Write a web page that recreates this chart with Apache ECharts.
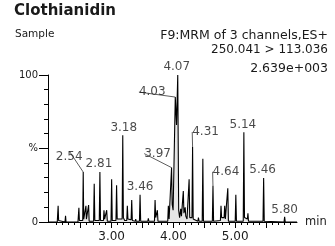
<!DOCTYPE html>
<html>
<head>
<meta charset="utf-8">
<script src="https://cdn.jsdelivr.net/npm/echarts@6/dist/echarts.min.js"></script>
<style>
    html, body { margin: 0; padding: 0; background: #fff; }
    #chart { width: 335px; height: 246px; }
</style>
</head>
<body>
<div id="chart"></div>
<script>
// chromatogram trace (time in min, intensity in %)
var retTime = [
    1.97, 2.12, 2.128, 2.134, 2.142, 2.15, 2.245, 2.254, 2.262,
    2.455, 2.462, 2.47, 2.478, 2.532, 2.54, 2.548, 2.575, 2.584, 2.592, 2.618, 2.627, 2.636,
    2.708, 2.718, 2.728, 2.8, 2.81, 2.82, 2.868, 2.876, 2.886, 2.91, 2.92, 2.93,
    2.99, 3.0, 3.01, 3.07, 3.08, 3.09, 3.17, 3.18, 3.19, 3.2, 3.21, 3.245, 3.254, 3.264,
    3.315, 3.325, 3.335, 3.383, 3.39, 3.397, 3.45, 3.46, 3.47,
    3.585, 3.594, 3.603, 3.62, 3.63, 3.693, 3.703, 3.713, 3.732, 3.74, 3.75,
    3.908, 3.918, 3.93, 3.96, 3.97, 3.98, 3.995, 4.03, 4.05, 4.07, 4.085,
    4.1, 4.118, 4.13, 4.15, 4.16, 4.17, 4.19, 4.2, 4.22, 4.244, 4.254, 4.264, 4.3, 4.31, 4.32,
    4.395, 4.405, 4.415, 4.466, 4.476, 4.486, 4.63, 4.64, 4.65,
    4.76, 4.77, 4.78, 4.8, 4.82, 4.83, 4.84, 4.872, 4.88, 4.89,
    5.0, 5.01, 5.02, 5.13, 5.14, 5.15, 5.197, 5.206, 5.215,
    5.45, 5.46, 5.47, 5.79, 5.80, 5.81, 6.0
];
var intensity = [
    0, 0, 1, 11, 1, 0, 0, 4.3, 0,
    0, 1, 9.7, 1, 1, 34, 2, 1.5, 11, 2, 1.5, 11.5, 0.5,
    0.5, 26, 1, 1, 34, 1, 1, 8, 2, 2, 8, 0.5,
    0.5, 29, 1, 1, 25, 2, 2, 59, 3, 3.5, 1, 1, 11, 2,
    1.5, 15, 1, 0.5, 2, 0.5, 0.5, 18.5, 0.5,
    0.5, 2.5, 0.5, 1, 0.3, 0.5, 15, 3, 3, 8, 0.5,
    0.5, 11, 2, 3, 37, 12, 8, 85, 66, 100, 8,
    3, 9, 4, 5, 21, 6, 10, 4, 2, 3, 29, 3, 3, 51, 2,
    0.5, 3, 0.5, 0.5, 43, 0.5, 0.5, 24.6, 0.5,
    1, 11, 3, 4, 3, 11, 2, 2, 23, 0.5,
    0.5, 18.5, 0.5, 0.5, 61, 3, 2, 6, 0.5,
    0.5, 30, 0.5, 0, 3.5, 0, 0
];

// labelled peaks
var peakLabels = ['2.54', '2.81', '3.18', '3.46', '3.97', '4.03', '4.07', '4.31', '4.64', '5.14', '5.46', '5.80'];
var peakTimes = [2.54, 2.81, 3.18, 3.46, 3.97, 4.03, 4.07, 4.31, 4.64, 5.14, 5.46, 5.80];

// axis ticks and labels
var X_MIN = 1.97, X_MAX = 6.0;
var xLabelValues = [3, 4, 5];
var xMajorTicks = [2.5, 3, 3.5, 4, 4.5, 5, 5.5];
var yLabelValues = [0, 50, 100];
var yLabelText = ['0', '%', '100'];
var yMinorTicks = [10, 20, 30, 40, 60, 70, 80, 90];

// label placement (px from apex) and which ones get a leader line
var labelShift = {
    '2.54': [-14, -15], '2.81': [-1, -8], '3.18': [1, -7], '3.46': [0, -8],
    '3.97': [-14, -14], '4.03': [-23, -5], '4.07': [-1, -8], '4.31': [13, -15],
    '4.64': [13, -14], '5.14': [-1, -7], '5.46': [-1, -8], '5.80': [0, -7]
};
var withLeader = ['2.54', '3.97', '4.03', '4.31', '4.64'];

var FONT = 'DejaVu Sans';
var INK = '#1a1a1a';

var trace = retTime.map(function (t, i) { return [t, intensity[i]]; });

function peakItem(name, idx) {
    var t = peakTimes[idx];
    var j = retTime.indexOf(t);
    return { name: name, value: [t, intensity[j]] };
}
var leaderPeaks = [], plainPeaks = [];
peakLabels.forEach(function (name, i) {
    (withLeader.indexOf(name) >= 0 ? leaderPeaks : plainPeaks).push(peakItem(name, i));
});

var xMinorTicks = [];
for (var k = 20; k <= 60; k++) {
    if (k % 5 !== 0) xMinorTicks.push(k / 10);
}

// tick marks drawn through the axes' own scales
var xTickData = xMinorTicks.map(function (v) { return [v, 0, 0]; })
    .concat(xMajorTicks.map(function (v) { return [v, 0, 1]; }));
var yTickData = yMinorTicks.map(function (v) { return [X_MIN, v, 0]; })
    .concat(yLabelValues.map(function (v) { return [X_MIN, v, 1]; }));

function crisp(v) { return Math.round(v - 0.5) + 0.5; }

function xTick(params, api) {
    var p = api.coord([api.value(0), 0]);
    var len = api.value(2) ? 6 : 3;
    var x = crisp(p[0]), y = Math.round(p[1]);
    return { type: 'line', shape: { x1: x, y1: y, x2: x, y2: y + len },
             style: { stroke: '#000', lineWidth: 1 } };
}
function yTick(params, api) {
    var p = api.coord([api.value(0), api.value(1)]);
    var len = api.value(2) ? 9 : 4;
    var x = Math.round(p[0]), y = crisp(p[1]);
    return { type: 'line', shape: { x1: x - len, y1: y, x2: x, y2: y },
             style: { stroke: '#000', lineWidth: 1 } };
}

function shiftLayout(list) {
    return function (p) {
        var s = labelShift[list[p.dataIndex].name];
        return { dx: s[0], dy: s[1] };
    };
}

var chart = echarts.init(document.getElementById('chart'), null, { renderer: 'canvas' });
chart.setOption({
    animation: false,
    backgroundColor: '#fff',
    textStyle: { fontFamily: FONT },
    title: [
        { text: 'Clothianidin', left: 14, top: 4, padding: 0,
          textStyle: { fontFamily: FONT, fontSize: 15, fontWeight: 'bold', color: INK } },
        { text: 'Sample', left: 15, top: 29, padding: 0,
          textStyle: { fontFamily: FONT, fontSize: 10.5, fontWeight: 'normal', color: INK } },
        { text: 'F9:MRM of 3 channels,ES+', right: 7, top: 29, padding: 0,
          textStyle: { fontFamily: FONT, fontSize: 12.5, fontWeight: 'normal', color: INK } },
        { text: '250.041 > 113.036', right: 7, top: 44, padding: 0,
          textStyle: { fontFamily: FONT, fontSize: 12, fontWeight: 'normal', color: INK } },
        { text: '2.639e+003', right: 7, top: 62, padding: 0,
          textStyle: { fontFamily: FONT, fontSize: 12.5, fontWeight: 'normal', color: INK } }
    ],
    grid: { left: 48, top: 75, width: 249, height: 147, containLabel: false, outerBoundsMode: 'none' },
    xAxis: {
        type: 'value', min: X_MIN, max: X_MAX, position: 'bottom',
        name: 'min', nameLocation: 'end', nameGap: 8,
        nameTextStyle: { fontFamily: FONT, fontSize: 11.5, color: INK, verticalAlign: 'middle' },
        axisLine: { show: true, onZero: false, lineStyle: { color: '#000', width: 1 } },
        axisTick: { show: false },
        axisLabel: {
            show: true, customValues: xLabelValues, margin: 9,
            fontFamily: FONT, fontSize: 12, color: INK,
            formatter: function (v) { return v.toFixed(2); }
        },
        splitLine: { show: false }
    },
    yAxis: {
        type: 'value', min: 0, max: 100, position: 'left',
        axisLine: { show: true, onZero: false, lineStyle: { color: '#000', width: 1 } },
        axisTick: { show: false },
        axisLabel: {
            show: true, customValues: yLabelValues, margin: 10,
            fontFamily: FONT, fontSize: 10, color: INK,
            formatter: function (v) { return yLabelText[yLabelValues.indexOf(v)]; }
        },
        splitLine: { show: false }
    },
    series: [
        {
            type: 'line', data: trace,
            showSymbol: false, symbol: 'none', silent: true,
            lineStyle: { color: '#000', width: 1.1 },
            areaStyle: { color: 'rgba(0,0,0,0.14)' },
            z: 2
        },
        { type: 'custom', data: xTickData, renderItem: xTick, silent: true, clip: false, z: 5 },
        { type: 'custom', data: yTickData, renderItem: yTick, silent: true, clip: false, z: 5 },
        {
            type: 'scatter', data: plainPeaks, symbolSize: 0, silent: true, z: 3,
            label: { show: true, position: 'inside', formatter: '{b}',
                     fontFamily: FONT, fontSize: 12, color: INK },
            labelLayout: shiftLayout(plainPeaks)
        },
        {
            type: 'scatter', data: leaderPeaks, symbolSize: 0, silent: true, z: 3,
            label: { show: true, position: 'inside', formatter: '{b}',
                     fontFamily: FONT, fontSize: 12, color: INK },
            labelLine: { show: true, lineStyle: { color: '#333', width: 0.8 } },
            labelLayout: shiftLayout(leaderPeaks)
        }
    ]
});
</script>
</body>
</html>
